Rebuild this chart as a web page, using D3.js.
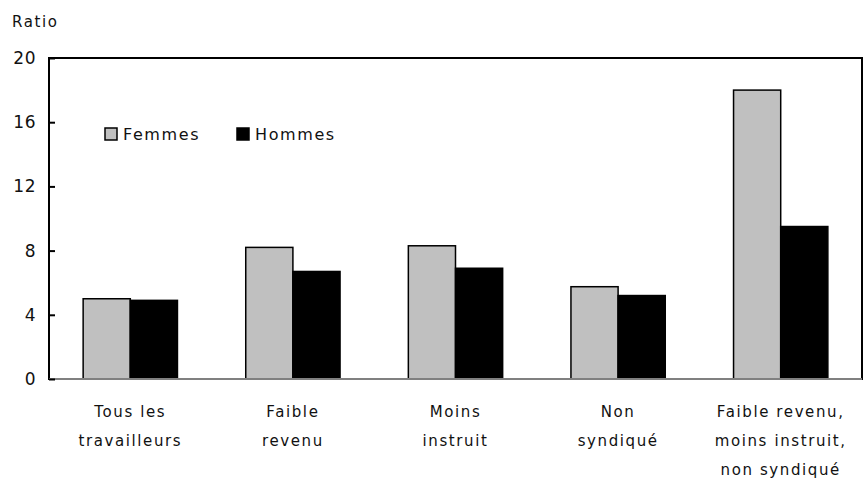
<!DOCTYPE html>
<html lang="fr">
<head>
<meta charset="UTF-8">
<title>Ratio</title>
<script src="https://d3js.org/d3.v7.min.js"></script>
<style>
    body { margin: 0; background: #fff; }
    svg text { font-family: "DejaVu Sans", sans-serif; font-size: 15px; fill: #111; letter-spacing: 1.6px; }
</style>
</head>
<body>
<svg id="chart" width="863" height="479"></svg>
<script>
// données
const categories = [
    ["Tous les", "travailleurs"],
    ["Faible", "revenu"],
    ["Moins", "instruit"],
    ["Non", "syndiqué"],
    ["Faible revenu,", "moins instruit,", "non syndiqué"]
];
const femmes = [5.0, 8.2, 8.3, 5.75, 18.0];
const hommes = [4.9, 6.7, 6.9, 5.2, 9.5];
const series = ["Femmes", "Hommes"];
const colors = ["#c0c0c0", "#000000"];
const yTicks = [0, 4, 8, 12, 16, 20];

const svg = d3.select("#chart");
const margin = {top: 58, right: 1, bottom: 100, left: 49};
const width = 863 - margin.left - margin.right;
const height = 479 - margin.top - margin.bottom;

const g = svg.append("g")
    .attr("transform", `translate(${margin.left},${margin.top})`);

const x = d3.scaleBand()
    .domain(d3.range(categories.length))
    .range([0, width])
    .paddingInner(0.42)
    .paddingOuter(0.21);

const xs = d3.scaleBand()
    .domain(series)
    .range([0, x.bandwidth()]);

const y = d3.scaleLinear()
    .domain([0, 20])
    .range([height, 0]);

// barres
const data = categories.map((c, i) => [femmes[i], hommes[i]]);
const groups = g.selectAll(".grp")
    .data(data)
    .enter().append("g")
    .attr("transform", (d, i) => `translate(${x(i)},0)`);

groups.selectAll("rect")
    .data(d => d.map((v, j) => ({s: series[j], v: v, c: colors[j]})))
    .enter().append("rect")
    .attr("x", d => xs(d.s))
    .attr("y", d => y(d.v))
    .attr("width", xs.bandwidth())
    .attr("height", d => height - y(d.v))
    .attr("fill", d => d.c)
    .attr("stroke", "#000")
    .attr("stroke-width", 1.5);

// cadre
g.append("rect")
    .attr("x", 0).attr("y", 0)
    .attr("width", width).attr("height", height)
    .attr("fill", "none")
    .attr("stroke", "#000")
    .attr("stroke-width", 2);

g.append("line")
    .attr("x1", 0).attr("x2", width)
    .attr("y1", height).attr("y2", height)
    .attr("stroke", "#808080")
    .attr("stroke-width", 2);

// axe y
const yAxis = g.append("g")
    .call(d3.axisLeft(y).tickValues(yTicks).tickSize(-6).tickPadding(14));
yAxis.select(".domain").remove();
yAxis.selectAll(".tick line").attr("stroke", "#000").attr("stroke-width", 2);
yAxis.selectAll(".tick text")
    .style("font-size", "17px")
    .style("letter-spacing", "0.5px")
    .attr("x", -13);

// étiquettes x
g.selectAll(".xlab")
    .data(categories)
    .enter().append("text")
    .attr("text-anchor", "middle")
    .attr("transform", (d, i) => `translate(${x(i) + x.bandwidth() / 2},${height + 38})`)
    .selectAll("tspan")
    .data(d => d)
    .enter().append("tspan")
    .attr("x", 0)
    .attr("dy", (d, i) => i === 0 ? 0 : 29)
    .text(d => d);

// titre de l'axe
svg.append("text")
    .attr("x", 12)
    .attr("y", 27)
    .text("Ratio");

// légende
const legendX = [105, 237];
const legend = svg.selectAll(".leg")
    .data(series)
    .enter().append("g")
    .attr("transform", (d, i) => `translate(${legendX[i]},128)`);
legend.append("rect")
    .attr("width", 12).attr("height", 12)
    .attr("fill", (d, i) => colors[i])
    .attr("stroke", "#000")
    .attr("stroke-width", 1.5);
legend.append("text")
    .attr("x", 18)
    .attr("y", 12)
    .style("font-size", "16px")
    .text(d => d);
</script>
</body>
</html>
